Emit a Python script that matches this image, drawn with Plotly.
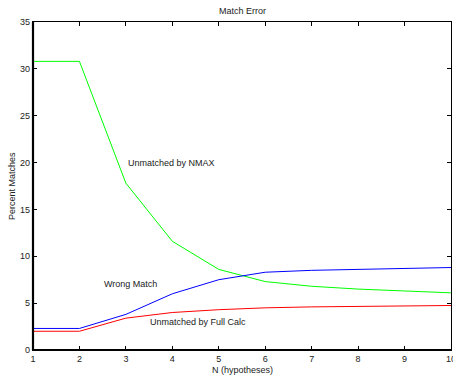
import plotly.graph_objects as go

n_hyp = [1, 2, 3, 4, 5, 6, 7, 8, 9, 10]
unmatched_nmax = [30.8, 30.8, 17.8, 11.6, 8.6, 7.3, 6.8, 6.5, 6.3, 6.1]
wrong_match = [2.3, 2.3, 3.8, 6.0, 7.5, 8.3, 8.5, 8.6, 8.7, 8.8]
unmatched_full = [2.0, 2.0, 3.4, 4.0, 4.3, 4.5, 4.6, 4.65, 4.7, 4.75]

labels = ["Unmatched by NMAX", "Wrong Match", "Unmatched by Full Calc"]
label_x = [3.0, 2.49, 3.48]
label_y = [20.0, 7.0, 3.0]

font = "Liberation Sans, Arial, sans-serif"
tc = "#222"

fig = go.Figure()
fig.add_trace(go.Scatter(x=n_hyp, y=unmatched_nmax, mode="lines",
                         line=dict(color="#00ff00", width=1), name=labels[0]))
fig.add_trace(go.Scatter(x=n_hyp, y=wrong_match, mode="lines",
                         line=dict(color="#0000ff", width=1), name=labels[1]))
fig.add_trace(go.Scatter(x=n_hyp, y=unmatched_full, mode="lines",
                         line=dict(color="#ff0000", width=1), name=labels[2]))

for t, xx, yy in zip(labels, label_x, label_y):
    fig.add_annotation(x=xx, y=yy, text=t, showarrow=False, xanchor="left",
                       yanchor="middle", font=dict(size=9, color=tc, family=font))

# axis titles and chart title as paper annotations
fig.add_annotation(x=0.5, y=0, xref="paper", yref="paper", yshift=-20,
                   text="N (hypotheses)", showarrow=False, xanchor="center", yanchor="middle",
                   font=dict(size=9, color=tc, family=font))
fig.add_annotation(x=0, y=0.5, xref="paper", yref="paper", xshift=-21,
                   text="Percent Matches", showarrow=False, textangle=-90,
                   xanchor="center", yanchor="middle",
                   font=dict(size=9, color=tc, family=font))
fig.add_annotation(x=0.5, y=1, xref="paper", yref="paper", yshift=11,
                   text="Match Error", showarrow=False, xanchor="center", yanchor="middle",
                   font=dict(size=9, color=tc, family=font))

# thicker bottom/left axis lines
fig.add_shape(type="line", xref="paper", yref="paper", x0=0, x1=1, y0=0, y1=0,
              line=dict(color="black", width=2.2), layer="above")
fig.add_shape(type="line", xref="paper", yref="paper", x0=0, x1=0, y0=0, y1=1,
              line=dict(color="black", width=2.2), layer="above")

axis_common = dict(showgrid=False, zeroline=False, ticks="inside", ticklen=4,
                   tickcolor="black", showline=True, linecolor="black", linewidth=1.2,
                   mirror="ticks", automargin=False, ticklabeloverflow="allow",
                   tickfont=dict(size=9, color=tc, family=font))

fig.update_xaxes(range=[1, 10], tickvals=n_hyp, **axis_common)
fig.update_yaxes(range=[0, 35], tickvals=[0, 5, 10, 15, 20, 25, 30, 35], **axis_common)

fig.update_layout(
    width=453, height=379,
    margin=dict(l=33, r=2, t=22, b=29),
    plot_bgcolor="white", paper_bgcolor="white",
    showlegend=False,
)

fig.write_html("out.html", config={"displayModeBar": False},
               post_script="document.body.style.margin='0';document.body.style.overflow='hidden';")
